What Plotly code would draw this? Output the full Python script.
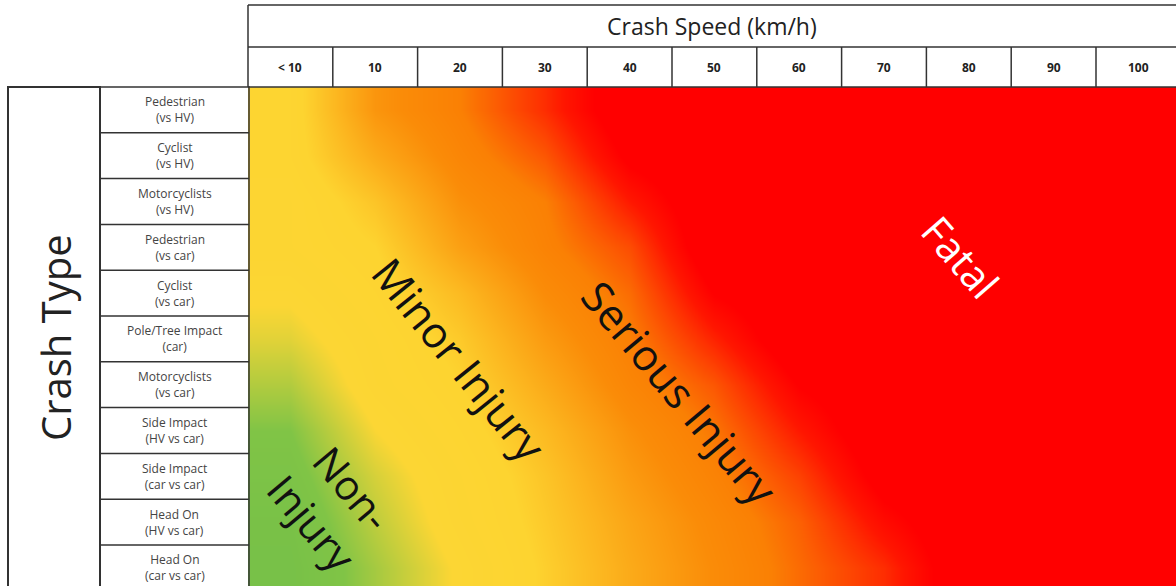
import plotly.graph_objects as go

# ---------------- data ----------------
speeds = ["< 10", "10", "20", "30", "40", "50", "60", "70", "80", "90", "100"]
crash_types = [
    "Pedestrian<br>(vs HV)",
    "Cyclist<br>(vs HV)",
    "Motorcyclists<br>(vs HV)",
    "Pedestrian<br>(vs car)",
    "Cyclist<br>(vs car)",
    "Pole/Tree Impact<br>(car)",
    "Motorcyclists<br>(vs car)",
    "Side Impact<br>(HV vs car)",
    "Side Impact<br>(car vs car)",
    "Head On<br>(HV vs car)",
    "Head On<br>(car vs car)",
]
# severity score: 0 = non-injury, 1 = minor, 2 = serious, 3 = fatal
sev_ped_hv = [1.1, 1.8, 2.1, 2.5, 3.0, 3.0, 3.0, 3.0, 3.0, 3.0, 3.0]
sev_cyc_hv = [1.1, 1.6, 2.0, 2.3, 2.85, 3.0, 3.0, 3.0, 3.0, 3.0, 3.0]
sev_moto_hv = [1.0, 1.35, 1.85, 2.1, 2.6, 3.0, 3.0, 3.0, 3.0, 3.0, 3.0]
sev_ped_car = [1.0, 1.2, 1.7, 2.05, 2.35, 3.0, 3.0, 3.0, 3.0, 3.0, 3.0]
sev_cyc_car = [0.85, 1.1, 1.45, 1.9, 2.2, 2.8, 3.0, 3.0, 3.0, 3.0, 3.0]
sev_pole = [0.7, 1.0, 1.3, 1.75, 2.1, 2.55, 3.0, 3.0, 3.0, 3.0, 3.0]
sev_moto_car = [0.5, 0.95, 1.2, 1.6, 2.0, 2.3, 2.8, 3.0, 3.0, 3.0, 3.0]
sev_side_hv = [0.3, 0.8, 1.1, 1.45, 1.85, 2.15, 2.6, 3.0, 3.0, 3.0, 3.0]
sev_side_car = [0.2, 0.65, 1.0, 1.35, 1.75, 2.05, 2.4, 2.9, 3.0, 3.0, 3.0]
sev_head_hv = [0.1, 0.55, 0.95, 1.3, 1.65, 1.95, 2.25, 2.7, 3.0, 3.0, 3.0]
sev_head_car = [0.05, 0.45, 0.85, 1.25, 1.6, 1.9, 2.2, 2.5, 3.0, 3.0, 3.0]

severity = [sev_ped_hv, sev_cyc_hv, sev_moto_hv, sev_ped_car, sev_cyc_car, sev_pole,
            sev_moto_car, sev_side_hv, sev_side_car, sev_head_hv, sev_head_car]

zone_labels = ["Non-<br>Injury", "Minor Injury", "Serious Injury", "Fatal"]

# ---------------- layout helpers ----------------
W, H = 1176, 586
FONT = "Open Sans"
COL_W = 84.8      # px per speed column
ROW_H = 45.8      # px per crash-type row
HM_LEFT, HM_TOP = 248, 87


def px(p):
    return p / W


def py(p):
    return 1 - p / H


colorscale = [
    [0.0, "rgb(118,192,72)"],
    [0.1, "rgb(128,196,70)"],
    [0.27, "rgb(252,214,52)"],
    [0.40, "rgb(253,212,48)"],
    [0.63, "rgb(250,140,8)"],
    [0.70, "rgb(250,128,4)"],
    [0.87, "rgb(255,22,0)"],
    [0.93, "rgb(255,0,0)"],
    [1.0, "rgb(255,0,0)"],
]

fig = go.Figure(go.Heatmap(
    z=severity,
    x=list(range(len(speeds))),
    y=list(range(len(crash_types))),
    zmin=0, zmax=3,
    zsmooth="best",
    colorscale=colorscale,
    showscale=False,
    hoverinfo="skip",
))

x_span = (W - HM_LEFT) / COL_W
y_span = (H - HM_TOP) / ROW_H

shapes = []
LC = "#333333"
# header box
for yy in (5, 47):
    shapes.append(dict(type="line", xref="paper", yref="paper", x0=px(HM_LEFT), x1=1.0,
                       y0=py(yy), y1=py(yy), line=dict(color=LC, width=1.5)))
shapes.append(dict(type="line", xref="paper", yref="paper", x0=px(HM_LEFT), x1=px(HM_LEFT),
                   y0=py(5), y1=py(HM_TOP), line=dict(color=LC, width=1.5)))
for i in range(len(speeds) - 1):
    shapes.append(dict(type="line", xref="x", yref="paper", x0=i + 0.5, x1=i + 0.5,
                       y0=py(47), y1=py(HM_TOP), line=dict(color=LC, width=1.5)))
# left boxes
shapes.append(dict(type="rect", xref="paper", yref="paper", x0=px(8), x1=px(100),
                   y0=-0.02, y1=py(HM_TOP), line=dict(color=LC, width=2)))
shapes.append(dict(type="rect", xref="paper", yref="paper", x0=px(100), x1=px(HM_LEFT + 1),
                   y0=-0.02, y1=py(HM_TOP), line=dict(color=LC, width=1.5)))
for i in range(len(crash_types) - 1):
    shapes.append(dict(type="line", xref="paper", yref="y", x0=px(100), x1=px(HM_LEFT + 1),
                       y0=i + 0.5, y1=i + 0.5, line=dict(color=LC, width=1.5)))
# top border of heatmap
shapes.append(dict(type="line", xref="paper", yref="paper", x0=px(HM_LEFT), x1=1.0,
                   y0=py(HM_TOP), y1=py(HM_TOP), line=dict(color=LC, width=1.5)))

C = dict(xanchor="center", yanchor="middle", showarrow=False)
ann = []
ann.append(dict(text="Crash Speed (km/h)", xref="paper", yref="paper",
                x=px((HM_LEFT + W) / 2), y=py(26),
                font=dict(family=FONT, size=23, color="#222"), **C))
for i, s in enumerate(speeds):
    ann.append(dict(text=f"<b>{s}</b>", xref="x", yref="paper", x=i, y=py(67),
                    font=dict(family=FONT, size=12, color="#222"), **C))
for i, c in enumerate(crash_types):
    ann.append(dict(text=c, xref="paper", yref="y", x=px(174.5), y=i,
                    font=dict(family=FONT, size=12, color="#444"), **C))
ann.append(dict(text="Crash Type", xref="paper", yref="paper", x=px(55), y=py(338),
                textangle=-90, font=dict(family=FONT, size=40, color="#222"), **C))

# zone labels placed in heatmap coordinates
zone_pos = [(0.50, 8.63, 50, "#111", 41), (1.99, 5.46, 51, "#111", 43),
            (4.59, 6.18, 50, "#111", 43), (7.91, 3.21, 49, "white", 41)]
for lab, (zx, zy, ang, col, fs) in zip(zone_labels, zone_pos):
    ann.append(dict(text=lab, xref="x", yref="y", x=zx, y=zy, textangle=ang,
                    font=dict(family=FONT, size=fs, color=col), **C))

fig.update_layout(
    width=W, height=H,
    margin=dict(l=0, r=0, t=0, b=0),
    paper_bgcolor="white", plot_bgcolor="white",
    xaxis=dict(domain=[px(HM_LEFT), 1.0], range=[-0.5, -0.5 + x_span], visible=False,
               fixedrange=True),
    yaxis=dict(domain=[0, py(HM_TOP)], range=[-0.5 + y_span, -0.5], visible=False,
               fixedrange=True),
    shapes=shapes,
    annotations=ann,
    showlegend=False,
)

fig.write_html("out.html", config={"displayModeBar": False},
               post_script="document.body.style.margin='0';document.body.style.overflow='hidden';")
